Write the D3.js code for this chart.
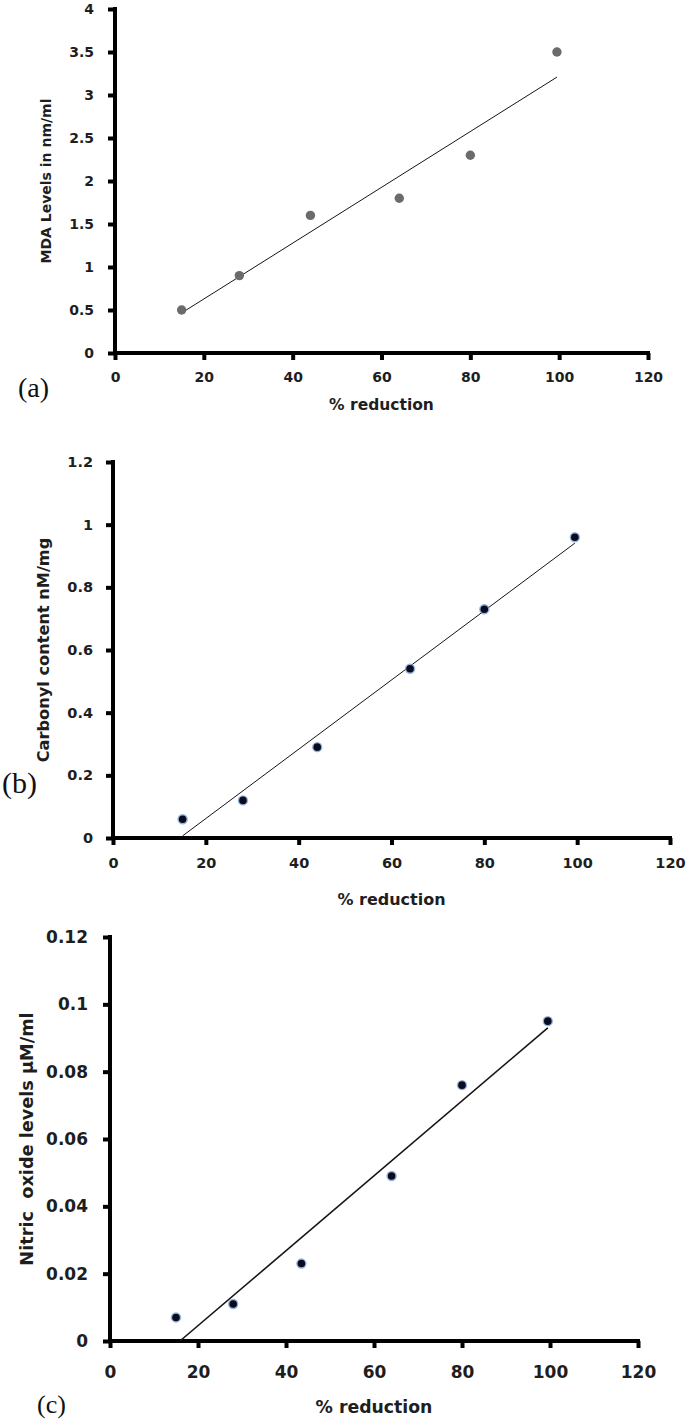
<!DOCTYPE html>
<html><head><meta charset="utf-8">
<script src="https://cdn.jsdelivr.net/npm/d3@7"></script>
<style>body{margin:0;background:#fff}svg{display:block}</style>
</head><body>
<script>
// ---- data ----
const reduction = [15, 28, 44, 64, 80, 99.5];
const mdaLevels = [0.5, 0.9, 1.6, 1.8, 2.3, 3.5];
const carbonyl = [0.06, 0.12, 0.29, 0.54, 0.73, 0.96];
const reductionC = [15, 28, 43.5, 64, 80, 99.5];
const nitricOxide = [0.007, 0.011, 0.023, 0.049, 0.076, 0.095];
const xTicks = [0, 20, 40, 60, 80, 100, 120];
const yTicksA = [0, 0.5, 1, 1.5, 2, 2.5, 3, 3.5, 4];
const yTicksB = [0, 0.2, 0.4, 0.6, 0.8, 1, 1.2];
const yTicksC = [0, 0.02, 0.04, 0.06, 0.08, 0.1, 0.12];
const xTitle = "% reduction";
const yTitles = ["MDA Levels in nm/ml", "Carbonyl content nM/mg", "Nitric  oxide levels µM/ml"];
const tags = ["(a)", "(b)", "(c)"];

const svg = d3.select("body").append("svg").attr("width", 688).attr("height", 1421);

const panels = [
  {x: reduction, y: mdaLevels, yTicks: yTicksA, ymax: 4, L: 115, R: 648, T: 9, B: 353,
   ylx: 47, xlabelY: 405, tagX: 18, tagY: 397, tagSize: 28,
   font: 14, xlabFont: 15.5, ylabFont: 14, ypad: 16, xpad: 14, dot: "grey", lineW: 1},
  {x: reduction, y: carbonyl, yTicks: yTicksB, ymax: 1.2, L: 113, R: 670, T: 462, B: 838,
   ylx: 44, xlabelY: 900, tagX: 2, tagY: 793, tagSize: 30,
   font: 14.5, xlabFont: 16, ylabFont: 16.2, ypad: 15, xpad: 15, dot: "blue", lineW: 1},
  {x: reductionC, y: nitricOxide, yTicks: yTicksC, ymax: 0.12, L: 110, R: 638, T: 937, B: 1341,
   ylx: 28, xlabelY: 1408, tagX: 37, tagY: 1413, tagSize: 26,
   font: 17, xlabFont: 17.3, ylabFont: 17.7, ypad: 17, xpad: 20, dot: "blue", lineW: 1.6}
];

const FONT = "'DejaVu Sans', Verdana, sans-serif";

panels.forEach((p, pi) => {
  const xs = d3.scaleLinear().domain([0, 120]).range([p.L, p.R]);
  const ys = d3.scaleLinear().domain([0, p.ymax]).range([p.B, p.T]);
  const g = svg.append("g");

  // axes
  const xa = g.append("g").attr("transform", `translate(0,${p.B})`)
    .call(d3.axisBottom(xs).tickValues(xTicks).tickFormat(d3.format("")).tickSize(5).tickSizeOuter(0).tickPadding(p.xpad));
  const ya = g.append("g").attr("transform", `translate(${p.L},0)`)
    .call(d3.axisLeft(ys).tickValues(p.yTicks).tickFormat(d => String(+d.toFixed(3))).tickSize(5).tickSizeOuter(0).tickPadding(p.ypad));
  [xa, ya].forEach(a => {
    a.select(".domain").attr("stroke", "#000").attr("stroke-width", 4);
    a.selectAll(".tick line").attr("stroke", "#000").attr("stroke-width", 4);
    a.selectAll(".tick text").attr("font-family", FONT).attr("font-weight", "bold")
      .attr("font-size", p.font).attr("fill", "#1e1e1e");
  });
  xa.selectAll(".tick line").attr("y2", 7);
  ya.selectAll(".tick line").attr("x2", -7);
  xa.select(".domain").attr("d", `M${p.L - 2},0H${p.R + 2}`);
  ya.select(".domain").attr("d", `M0,${p.B + 2}V${p.T - 2}`);

  // least-squares trend line (clipped at y = 0)
  const mx = d3.mean(p.x), my = d3.mean(p.y);
  const slope = d3.sum(p.x.map((v, i) => (v - mx) * (p.y[i] - my))) / d3.sum(p.x.map(v => (v - mx) ** 2));
  const icpt = my - slope * mx;
  const x0 = Math.max(d3.min(p.x), -icpt / slope), x1 = d3.max(p.x);
  g.append("line")
    .attr("x1", xs(x0)).attr("y1", ys(slope * x0 + icpt))
    .attr("x2", xs(x1)).attr("y2", ys(slope * x1 + icpt))
    .attr("stroke", "#151515").attr("stroke-width", p.lineW);

  // points
  const pts = p.x.map((v, i) => [v, p.y[i]]);
  if (p.dot === "grey") {
    g.selectAll("circle.pt").data(pts).join("circle").attr("class", "pt")
      .attr("cx", d => xs(d[0])).attr("cy", d => ys(d[1])).attr("r", 4.7)
      .attr("fill", "#6b6b6b");
  } else {
    g.selectAll("circle.halo").data(pts).join("circle").attr("class", "halo")
      .attr("cx", d => xs(d[0])).attr("cy", d => ys(d[1])).attr("r", 5.2)
      .attr("fill", "#6f9bd6").attr("opacity", 0.75);
    g.selectAll("circle.pt").data(pts).join("circle").attr("class", "pt")
      .attr("cx", d => xs(d[0])).attr("cy", d => ys(d[1])).attr("r", 3.8)
      .attr("fill", "#0b0b1e");
  }

  // axis titles
  g.append("text").attr("x", (p.L + p.R) / 2).attr("y", p.xlabelY)
    .attr("text-anchor", "middle").attr("dominant-baseline", "middle")
    .attr("font-family", FONT).attr("font-weight", "bold")
    .attr("font-size", p.xlabFont).attr("fill", "#1e1e1e").text(xTitle);
  g.append("text").attr("transform", `translate(${p.ylx},${(p.T + p.B) / 2}) rotate(-90)`)
    .attr("text-anchor", "middle").attr("dominant-baseline", "middle")
    .style("white-space", "pre")
    .attr("font-family", FONT).attr("font-weight", "bold")
    .attr("font-size", p.ylabFont).attr("fill", "#1e1e1e").text(yTitles[pi]);
  g.append("text").attr("x", p.tagX).attr("y", p.tagY)
    .attr("font-family", "'Liberation Serif', serif").attr("font-size", p.tagSize).attr("fill", "#111")
    .text(tags[pi]);
});
</script>
</body></html>
